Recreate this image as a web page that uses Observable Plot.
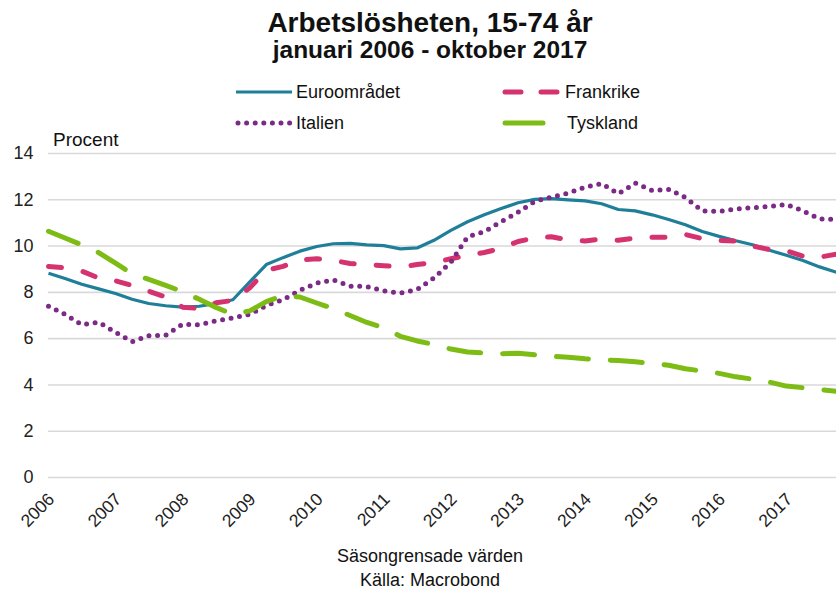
<!DOCTYPE html>
<html>
<head>
<meta charset="utf-8">
<script src="https://cdn.jsdelivr.net/npm/d3@7"></script>
<script src="https://cdn.jsdelivr.net/npm/@observablehq/plot@0.6"></script>
<style>
  body { margin: 0; background: #fff; font-family: "Liberation Sans", Arial, sans-serif; }
  #wrap { position: relative; width: 836px; height: 589px; overflow: hidden; background: #fff; }
  .t { position: absolute; white-space: nowrap; color: #111; line-height: 1; }
  .c { left: 30px; width: 800px; text-align: center; }
  #chart { position: absolute; left: 0; top: 140px; }
  .sw { position: absolute; }
</style>
</head>
<body>
<div id="wrap">
  <div class="t c" id="title" style="top:9px;font-size:28px;font-weight:bold;">Arbetslösheten, 15-74 år</div>
  <div class="t c" id="subtitle" style="top:38px;font-size:24.5px;font-weight:bold;">januari 2006 - oktober 2017</div>
  <div id="legend"></div>
  <div class="t" style="left:53px;top:130px;font-size:19px;">Procent</div>
  <div id="chart"></div>
  <div class="t c" style="top:547px;font-size:18px;">Säsongrensade värden</div>
  <div class="t c" style="top:571px;font-size:18px;">Källa: Macrobond</div>
</div>
<script>
// ---- data (quarterly readings, percent) ----
const months = ["2006-01","2006-04","2006-07","2006-10","2007-01","2007-04","2007-07","2007-10",
  "2008-01","2008-04","2008-07","2008-10","2009-01","2009-04","2009-07","2009-10",
  "2010-01","2010-04","2010-07","2010-10","2011-01","2011-04","2011-07","2011-10",
  "2012-01","2012-04","2012-07","2012-10","2013-01","2013-04","2013-07","2013-10",
  "2014-01","2014-04","2014-07","2014-10","2015-01","2015-04","2015-07","2015-10",
  "2016-01","2016-04","2016-07","2016-10","2017-01","2017-04","2017-07","2017-10"];
const euroomradet = [8.83, 8.6, 8.35, 8.15, 7.95, 7.7, 7.52, 7.42, 7.36, 7.4, 7.52, 7.68,
  8.45, 9.2, 9.5, 9.78, 9.98, 10.1, 10.12, 10.05, 10.02, 9.88, 9.92, 10.25,
  10.68, 11.05, 11.35, 11.62, 11.87, 12.02, 12.05, 12.0, 11.95, 11.83, 11.58, 11.52,
  11.35, 11.15, 10.92, 10.63, 10.42, 10.23, 10.06, 9.82, 9.6, 9.38, 9.1, 8.87];
const frankrike = [9.12, 9.06, 8.92, 8.62, 8.5, 8.3, 8.05, 7.8, 7.36, 7.3, 7.55, 7.65,
  8.2, 8.95, 9.12, 9.4, 9.45, 9.38, 9.25, 9.2, 9.15, 9.1, 9.2, 9.3,
  9.45, 9.6, 9.72, 9.9, 10.2, 10.35, 10.4, 10.27, 10.22, 10.3, 10.25, 10.34,
  10.38, 10.38, 10.5, 10.32, 10.24, 10.22, 10.0, 9.85, 9.8, 9.56, 9.52, 9.65];
const italien = [7.4, 7.05, 6.6, 6.71, 6.27, 5.87, 6.13, 6.15, 6.62, 6.6, 6.77, 6.9,
  7.05, 7.43, 7.68, 8.09, 8.4, 8.54, 8.27, 8.25, 8.06, 7.97, 8.12, 8.62,
  9.3, 10.4, 10.62, 11.05, 11.46, 11.93, 12.11, 12.29, 12.55, 12.7, 12.26, 12.72,
  12.4, 12.45, 12.1, 11.52, 11.5, 11.6, 11.66, 11.71, 11.8, 11.52, 11.18, 11.14];
const tyskland = [10.64, 10.35, 10.05, 9.72, 9.26, 8.8, 8.56, 8.3, 8.03, 7.7, 7.35, 7.05,
  7.2, 7.6, 7.86, 7.8, 7.54, 7.3, 7.0, 6.7, 6.47, 6.1, 5.9, 5.75,
  5.55, 5.42, 5.38, 5.35, 5.37, 5.3, 5.24, 5.2, 5.13, 5.08, 5.06, 5.0,
  4.92, 4.85, 4.7, 4.6, 4.5, 4.35, 4.25, 4.12, 3.95, 3.88, 3.8, 3.72];
const seriesNames = ["Euroområdet", "Frankrike", "Italien", "Tyskland"];
const yTicks = [0, 2, 4, 6, 8, 10, 12, 14];
const yearTicks = ["2006","2007","2008","2009","2010","2011","2012","2013","2014","2015","2016","2017"];

// ---- styles ----
const styles = {
  "Euroområdet": {stroke: "#1f7f99", strokeWidth: 3.2, strokeLinecap: "butt"},
  "Frankrike":   {stroke: "#d4336f", strokeWidth: 5, strokeDasharray: "13 22", strokeLinecap: "round"},
  "Italien":     {stroke: "#7b2b86", strokeWidth: 5, strokeDasharray: "0 8.6", strokeLinecap: "round"},
  "Tyskland":    {stroke: "#7cbc14", strokeWidth: 5, strokeDasharray: "32 22", strokeLinecap: "round"}
};
const seriesData = {"Euroområdet": euroomradet, "Frankrike": frankrike, "Italien": italien, "Tyskland": tyskland};

const parse = d3.utcParse("%Y-%m");
const dates = months.map(parse);
const yearDates = yearTicks.map(d3.utcParse("%Y"));

const lines = seriesNames.map(name =>
  Plot.line(seriesData[name], {x: dates, y: seriesData[name], strokeLinejoin: "round", ...styles[name]})
);

const chart = Plot.plot({
  width: 836,
  height: 397,
  marginLeft: 48,
  marginRight: 0,
  marginTop: 13,
  marginBottom: 60,
  style: {fontFamily: "'Liberation Sans', Arial, sans-serif", color: "#222", background: "transparent", overflow: "visible"},
  x: {type: "utc", domain: [dates[0], dates[dates.length - 1]]},
  y: {domain: [0, 14]},
  marks: [
    Plot.ruleY(yTicks, {stroke: "#d9d9d9", strokeWidth: 1.6}),
    Plot.axisY({ticks: yTicks, tickSize: 0, tickPadding: 15, fontSize: 18, label: null}),
    Plot.axisX({ticks: yearDates, tickFormat: d3.utcFormat("%Y"), tickSize: 0, tickPadding: 19, dx: 3, tickRotate: -45, fontSize: 17.5, label: null}),
    ...lines
  ]
});
document.getElementById("chart").appendChild(chart);

// ---- legend (HTML + small svg swatches) ----
const legendItems = [
  {name: "Euroområdet", sx: 236, tx: 296, y: 92},
  {name: "Frankrike",   sx: 503, tx: 565, y: 92},
  {name: "Italien",     sx: 236, tx: 296, y: 123},
  {name: "Tyskland",    sx: 503, tx: 567, y: 123}
];
const legend = document.getElementById("legend");
for (const it of legendItems) {
  const s = styles[it.name];
  const w = it.name === "Tyskland" ? 42 : (it.name === "Frankrike" ? 57 : 56);
  const svg = d3.create("svg").attr("class", "sw").attr("width", w + 6).attr("height", 10)
    .style("left", (it.sx - 3) + "px").style("top", (it.y - 5) + "px");
  let dash = s.strokeDasharray || null;
  if (it.name === "Frankrike") dash = "16 20";
  if (it.name === "Tyskland") dash = null;
  svg.append("line").attr("x1", 3 + (s.strokeLinecap === "round" ? 2 : 0)).attr("x2", 3 + w - (s.strokeLinecap === "round" ? 2 : 0))
    .attr("y1", 5).attr("y2", 5)
    .attr("stroke", s.stroke).attr("stroke-width", s.strokeWidth)
    .attr("stroke-dasharray", dash).attr("stroke-linecap", s.strokeLinecap);
  legend.appendChild(svg.node());
  const t = document.createElement("div");
  t.className = "t";
  t.style.left = it.tx + "px";
  t.style.top = (it.y - 9) + "px";
  t.style.fontSize = "18px";
  t.textContent = it.name;
  legend.appendChild(t);
}
</script>
</body>
</html>
